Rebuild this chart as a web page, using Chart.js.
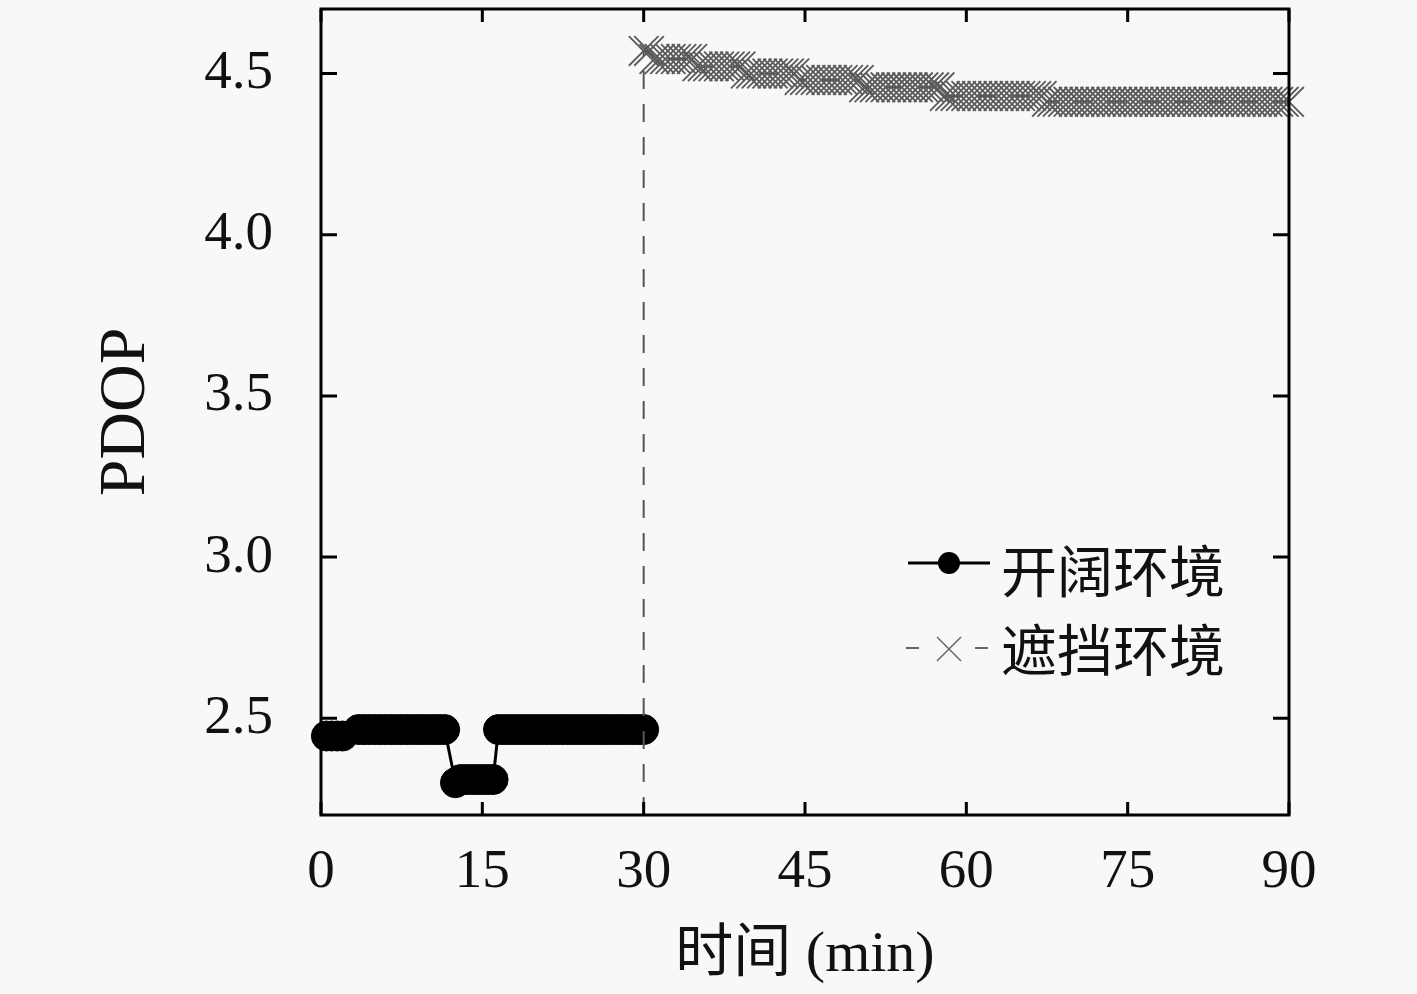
<!DOCTYPE html>
<html lang="zh">
<head>
    <meta charset="UTF-8">
    <title>PDOP</title>
    <script src="https://cdn.jsdelivr.net/npm/chart.js@4.4.0/dist/chart.umd.min.js"></script>
    <style>
        body {
            margin: 0;
            background-color: #f8f8f8;
        }
        .wrap {
            width: 1417px;
            height: 994px;
            position: relative;
        }
    </style>
</head>
<body>
    <div class="wrap">
        <canvas id="pdopChart"></canvas>
    </div>
    <script>
        // 开阔环境 (open sky)
        const openTime = [
            0.5, 1, 1.5, 2,
            3.5, 4, 4.5, 5, 5.5, 6, 6.5, 7, 7.5, 8, 8.5, 9, 9.5, 10, 10.5, 11, 11.5,
            12.5, 13, 13.5, 14, 14.5, 15, 15.5, 16,
            16.5, 17, 17.5, 18, 18.5, 19, 19.5, 20, 20.5, 21, 21.5, 22, 22.5, 23,
            23.5, 24, 24.5, 25, 25.5, 26, 26.5, 27, 27.5, 28, 28.5, 29, 29.5, 30
        ];
        const openPdop = [
            2.445, 2.445, 2.445, 2.445,
            2.465, 2.465, 2.465, 2.465, 2.465, 2.465, 2.465, 2.465, 2.465, 2.465, 2.465, 2.465, 2.465, 2.465, 2.465, 2.465, 2.465,
            2.30, 2.31, 2.31, 2.31, 2.31, 2.31, 2.31, 2.31,
            2.465, 2.465, 2.465, 2.465, 2.465, 2.465, 2.465, 2.465, 2.465, 2.465, 2.465, 2.465, 2.465, 2.465,
            2.465, 2.465, 2.465, 2.465, 2.465, 2.465, 2.465, 2.465, 2.465, 2.465, 2.465, 2.465, 2.465, 2.465
        ];

        // 遮挡环境 (blocked), first point is where the line comes up from below the axis
        const shadeTime = [
            30, 30, 30.5,
            31, 31.5, 32, 32.5, 33, 33.5, 34, 34.5,
            35, 35.5, 36, 36.5, 37, 37.5, 38, 38.5, 39,
            39.5, 40, 40.5, 41, 41.5, 42, 42.5, 43, 43.5, 44,
            44.5, 45, 45.5, 46, 46.5, 47, 47.5, 48, 48.5, 49, 49.5, 50,
            50.5, 51, 51.5, 52, 52.5, 53, 53.5, 54, 54.5, 55, 55.5, 56, 56.5, 57, 57.5,
            58, 58.5, 59, 59.5, 60, 60.5, 61, 61.5, 62, 62.5, 63, 63.5, 64, 64.5, 65, 65.5, 66, 66.5, 67,
            67.5, 68, 68.5, 69, 69.5, 70, 70.5, 71, 71.5, 72, 72.5, 73, 73.5, 74, 74.5, 75, 75.5, 76,
            76.5, 77, 77.5, 78, 78.5, 79, 79.5, 80, 80.5, 81, 81.5, 82, 82.5, 83, 83.5, 84, 84.5, 85,
            85.5, 86, 86.5, 87, 87.5, 88, 88.5, 89, 89.5, 90
        ];
        const shadePdop = [
            2.2, 4.57, 4.57,
            4.545, 4.545, 4.545, 4.545, 4.545, 4.545, 4.545, 4.545,
            4.522, 4.522, 4.522, 4.522, 4.522, 4.522, 4.522, 4.522, 4.522,
            4.50, 4.50, 4.50, 4.50, 4.50, 4.50, 4.50, 4.50, 4.50, 4.50,
            4.48, 4.48, 4.48, 4.48, 4.48, 4.48, 4.48, 4.48, 4.48, 4.48, 4.48, 4.48,
            4.457, 4.457, 4.457, 4.457, 4.457, 4.457, 4.457, 4.457, 4.457, 4.457, 4.457, 4.457, 4.457, 4.457, 4.457,
            4.43, 4.43, 4.43, 4.43, 4.43, 4.43, 4.43, 4.43, 4.43, 4.43, 4.43, 4.43, 4.43, 4.43, 4.43, 4.43, 4.43, 4.43, 4.43,
            4.412, 4.412, 4.412, 4.412, 4.412, 4.412, 4.412, 4.412, 4.412, 4.412, 4.412, 4.412, 4.412, 4.412, 4.412, 4.412, 4.412, 4.412,
            4.412, 4.412, 4.412, 4.412, 4.412, 4.412, 4.412, 4.412, 4.412, 4.412, 4.412, 4.412, 4.412, 4.412, 4.412, 4.412, 4.412, 4.412,
            4.412, 4.412, 4.412, 4.412, 4.412, 4.412, 4.412, 4.412, 4.412, 4.412
        ];

        const xTicks = [0, 15, 30, 45, 60, 75, 90];
        const yTicks = [2.5, 3.0, 3.5, 4.0, 4.5];

        const serif = "'Liberation Serif', 'Noto Sans CJK SC', serif";
        const cjk = "'Noto Sans CJK SC', sans-serif";

        // frame with inward ticks on all four sides
        const frame = {
            id: 'frame',
            afterDatasetsDraw(chart) {
                const ctx = chart.ctx;
                const {left, right, top, bottom} = chart.chartArea;
                ctx.save();
                ctx.strokeStyle = '#000';
                ctx.lineWidth = 3;
                ctx.strokeRect(left, top, right - left, bottom - top);
                ctx.beginPath();
                chart.scales.y.ticks.forEach(t => {
                    const p = chart.scales.y.getPixelForValue(t.value);
                    ctx.moveTo(left, p); ctx.lineTo(left + 16, p);
                    ctx.moveTo(right, p); ctx.lineTo(right - 16, p);
                });
                chart.scales.x.ticks.forEach(t => {
                    const p = chart.scales.x.getPixelForValue(t.value);
                    ctx.moveTo(p, bottom); ctx.lineTo(p, bottom - 13);
                    ctx.moveTo(p, top); ctx.lineTo(p, top + 13);
                });
                ctx.stroke();
                ctx.restore();
            }
        };

        // legend: line + marker + label
        const legendBox = {
            id: 'legendBox',
            afterDraw(chart) {
                const ctx = chart.ctx;
                const ds = chart.data.datasets;
                ctx.save();
                // row 1
                ctx.strokeStyle = '#000';
                ctx.lineWidth = 3;
                ctx.beginPath();
                ctx.moveTo(908, 563); ctx.lineTo(990, 563);
                ctx.stroke();
                ctx.fillStyle = '#000';
                ctx.beginPath();
                ctx.arc(949, 563, 11, 0, Math.PI * 2);
                ctx.fill();
                // row 2
                ctx.strokeStyle = '#666';
                ctx.lineWidth = 2;
                ctx.beginPath();
                ctx.moveTo(906, 648); ctx.lineTo(919, 648);
                ctx.moveTo(975, 648); ctx.lineTo(988, 648);
                ctx.stroke();
                ctx.lineWidth = 1.5;
                ctx.beginPath();
                ctx.moveTo(937, 637); ctx.lineTo(961, 661);
                ctx.moveTo(961, 637); ctx.lineTo(937, 661);
                ctx.stroke();
                // labels
                ctx.fillStyle = '#111';
                ctx.font = '56px ' + cjk;
                ctx.textAlign = 'left';
                ctx.textBaseline = 'middle';
                ctx.fillText(ds[0].label, 1001, 571);
                ctx.fillText(ds[1].label, 1001, 650);
                ctx.restore();
            }
        };

        new Chart(document.getElementById('pdopChart'), {
            type: 'line',
            data: {
                datasets: [
                    {
                        label: '开阔环境',
                        data: openTime.map((t, i) => ({x: t, y: openPdop[i]})),
                        borderColor: '#000',
                        backgroundColor: '#000',
                        borderWidth: 3,
                        pointStyle: 'circle',
                        pointRadius: 15,
                        pointBorderWidth: 1,
                        pointBackgroundColor: '#000',
                        pointBorderColor: '#000',
                        tension: 0,
                        clip: false,
                        order: 1
                    },
                    {
                        label: '遮挡环境',
                        data: shadeTime.map((t, i) => ({x: t, y: shadePdop[i]})),
                        borderColor: '#555',
                        borderWidth: 2,
                        borderDash: [18, 15],
                        pointStyle: 'crossRot',
                        pointRadius: ctx => ctx.dataIndex === 0 ? 0 : 21,
                        pointBorderColor: '#5a5a5a',
                        pointBorderWidth: 1.8,
                        tension: 0,
                        clip: false,
                        order: 0
                    }
                ]
            },
            options: {
                responsive: true,
                maintainAspectRatio: false,
                animation: false,
                events: [],
                layout: {
                    autoPadding: false,
                    padding: {left: 0, top: 9, right: 128, bottom: 0}
                },
                plugins: {
                    legend: {display: false},
                    tooltip: {enabled: false}
                },
                scales: {
                    x: {
                        type: 'linear',
                        min: 0,
                        max: 90,
                        afterBuildTicks: s => { s.ticks = xTicks.map(v => ({value: v})); },
                        afterFit: s => { s.height = 179; s.paddingLeft = 0; s.paddingRight = 0; },
                        grid: {display: false, drawTicks: false},
                        border: {display: false},
                        ticks: {
                            color: '#111',
                            font: {family: serif, size: 55},
                            padding: 25,
                            maxRotation: 0,
                            autoSkip: false
                        },
                        title: {
                            display: true,
                            text: '时间 (min)',
                            color: '#111',
                            font: {family: serif, size: 58},
                            padding: {top: 0, bottom: 3}
                        }
                    },
                    y: {
                        type: 'linear',
                        min: 2.2,
                        max: 4.7,
                        afterBuildTicks: s => { s.ticks = yTicks.map(v => ({value: v})); },
                        afterFit: s => { s.width = 321; s.paddingTop = 0; s.paddingBottom = 0; },
                        grid: {display: false, drawTicks: false},
                        border: {display: false},
                        ticks: {
                            color: '#111',
                            font: {family: serif, size: 55, lineHeight: 0.25},
                            padding: 48,
                            callback: v => v.toFixed(1)
                        },
                        title: {
                            display: true,
                            text: 'PDOP',
                            color: '#111',
                            font: {family: serif, size: 66},
                            padding: {top: 87, bottom: 0}
                        }
                    }
                }
            },
            plugins: [frame, legendBox]
        });
    </script>
</body>
</html>
